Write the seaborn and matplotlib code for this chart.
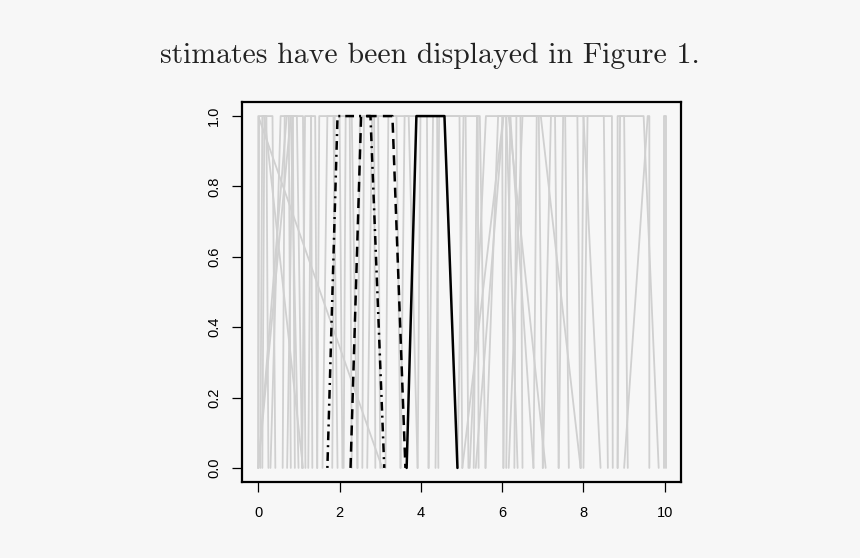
import matplotlib
matplotlib.use("Agg")
import matplotlib.pyplot as plt
import seaborn as sns
import pandas as pd

# Trapezoidal fuzzy numbers (left foot, left shoulder, right shoulder, right foot)
gray_a = [0.00, 0.00, 0.30, 0.00, 0.71, 1.08, 1.23, 1.45, 1.58, 1.82, 2.44, 2.56, 2.68,
          3.13, 3.50, 3.92, 4.19, 4.36, 4.90, 5.02, 5.30, 5.20, 5.59, 6.03, 6.16, 6.77,
          7.00, 7.39, 7.93, 8.00, 8.84, 8.84, 9.00, 9.98, 0.10, 0.60, 2.10, 6.30,
          0.00, 0.05, 5.35, 6.10]
gray_b = [0.00, 0.02, 0.55, 0.70, 0.85, 1.15, 1.30, 1.50, 1.70, 1.88, 2.50, 2.60, 2.80,
          3.20, 3.60, 3.99, 4.30, 4.45, 5.05, 6.03, 5.38, 5.60, 5.90, 6.10, 6.50, 6.85,
          7.20, 7.50, 8.00, 8.10, 8.84, 8.90, 9.58, 9.98, 0.15, 0.65, 2.15, 6.35,
          0.80, 0.10, 6.03, 6.20]
gray_c = [0.00, 0.35, 0.80, 0.95, 1.10, 1.30, 1.40, 1.85, 2.00, 2.30, 2.85, 2.95, 3.40,
          3.70, 4.15, 4.40, 4.95, 5.10, 5.45, 6.10, 5.40, 6.20, 6.00, 6.90, 7.30, 7.55,
          8.00, 7.85, 8.70, 8.50, 9.48, 9.00, 9.62, 10.02, 0.20, 0.75, 2.25, 6.45,
          0.85, 0.15, 6.16, 6.95]
gray_d = [3.05, 0.42, 0.99, 1.08, 1.16, 1.33, 1.45, 1.95, 2.07, 2.44, 2.88, 3.00, 3.50,
          3.92, 4.19, 4.43, 5.02, 5.17, 5.59, 6.38, 5.42, 6.77, 6.03, 7.00, 7.39, 7.64,
          8.42, 7.93, 8.72, 8.60, 9.85, 9.09, 9.62, 10.02, 0.25, 0.80, 2.30, 6.50,
          0.90, 1.10, 7.07, 7.93]

# Highlighted estimates
est_styles = ["-", (0, (4, 2.5)), (0, (0.8, 2, 3.5, 2))]
est_a = [3.65, 2.27, 1.70]
est_b = [3.89, 2.53, 1.95]
est_c = [4.58, 3.30, 2.76]
est_d = [4.90, 3.62, 3.10]

membership = [0, 1, 1, 0]

bg = "#f7f7f7"
sns.set_style("white", {"axes.facecolor": bg, "figure.facecolor": bg})
plt.rcParams["font.family"] = ["Liberation Sans", "DejaVu Sans"]

fig = plt.figure(figsize=(8.6, 5.58), dpi=100)
ax = fig.add_axes([0.2814, 0.1362, 0.5105, 0.681])

for a, b, c, d in zip(gray_a, gray_b, gray_c, gray_d):
    df = pd.DataFrame({"x": [a, b, c, d], "mu": membership})
    sns.lineplot(data=df, x="x", y="mu", sort=False, estimator=None,
                 color="#d0d0d0", lw=1.3, ax=ax)

for a, b, c, d, ls in zip(est_a, est_b, est_c, est_d, est_styles):
    df = pd.DataFrame({"x": [a, b, c, d], "mu": membership})
    sns.lineplot(data=df, x="x", y="mu", sort=False, estimator=None,
                 color="black", lw=1.8, linestyle=ls, ax=ax)

ax.set_xlim(-0.4, 10.4)
ax.set_ylim(-0.04, 1.04)
ax.set_xticks([0, 2, 4, 6, 8, 10])
ax.set_yticks([0.0, 0.2, 0.4, 0.6, 0.8, 1.0])
ax.set_xticklabels(["0", "2", "4", "6", "8", "10"])
ax.set_yticklabels(["0.0", "0.2", "0.4", "0.6", "0.8", "1.0"], rotation=90, va="center")
ax.set_xlabel("")
ax.set_ylabel("")
ax.tick_params(axis="both", direction="out", length=7, width=0.9, color="black",
               labelsize=10.5, labelcolor="black", bottom=True, left=True)
ax.tick_params(axis="x", pad=10)
ax.tick_params(axis="y", pad=8)
for s in ax.spines.values():
    s.set_visible(True)
    s.set_color("black")
    s.set_linewidth(1.6)

fig.text(0.186, 1 - 63 / 558, "stimates have been displayed in Figure 1.",
         family="cmr10", fontsize=21.4, color="#222222", ha="left", va="baseline")

fig.savefig("out.png", dpi=100, facecolor=bg)
